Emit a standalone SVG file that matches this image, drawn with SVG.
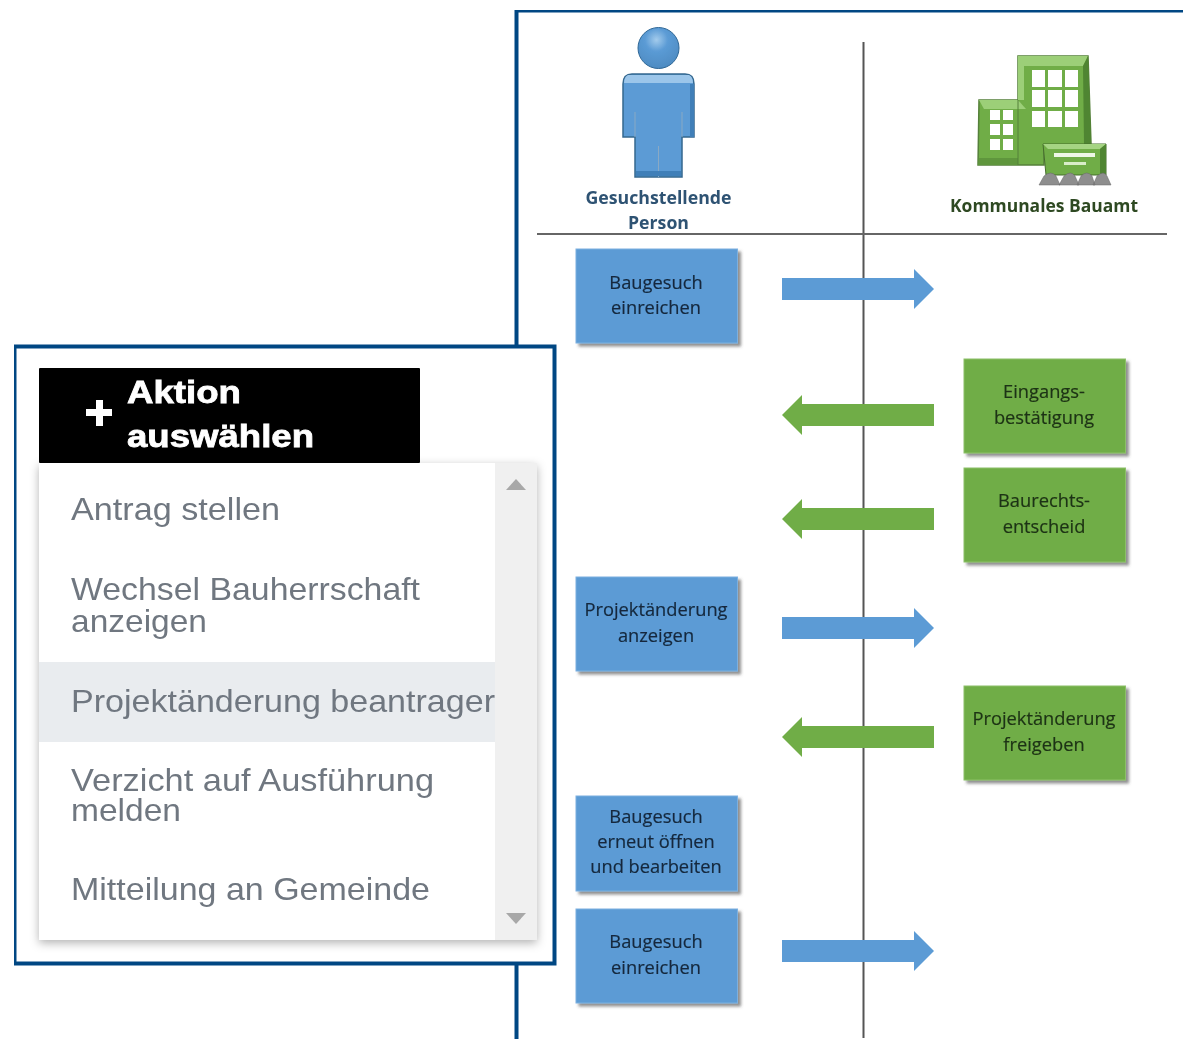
<svg xmlns="http://www.w3.org/2000/svg" width="1183" height="1039" viewBox="0 0 1183 1039">
<defs>
<filter id="sh" x="-10%" y="-10%" width="125%" height="125%"><feDropShadow dx="3" dy="3" stdDeviation="1.800" flood-color="#444" flood-opacity=".6"/></filter>
<filter id="pop" x="-5%" y="-5%" width="110%" height="110%"><feDropShadow dx="0" dy="3" stdDeviation="5" flood-color="#000" flood-opacity=".3"/></filter>
<filter id="blur" x="-5%" y="-5%" width="110%" height="110%"><feGaussianBlur stdDeviation=".65"/></filter>
<filter id="soft" x="0" y="0" width="100%" height="100%"><feGaussianBlur stdDeviation=".4"/></filter>
<radialGradient id="head" cx=".45" cy=".3" r=".8"><stop offset="0" stop-color="#a3cbec"/><stop offset=".35" stop-color="#5b9bd5"/><stop offset=".85" stop-color="#4e8cc3"/><stop offset="1" stop-color="#2f6796"/></radialGradient>
<symbol id="ar" viewBox="0 0 152 40" overflow="visible"><path d="M0 9H132V0L152 20L132 40V31H0Z"/></symbol>
</defs>
<style>
text{font-family:"Open Sans","Liberation Sans",sans-serif}
.box{stroke-width:1;filter:url(#sh)}
.b{fill:#5b9bd5;stroke:#7db0df}
.g{fill:#70ad47;stroke:#8cc068}
.l{font-size:18.300px;fill:#14283c;text-anchor:middle;stroke:#14283c;stroke-width:.2}
.lg{font-size:18.300px;fill:#1d3214;text-anchor:middle;stroke:#1d3214;stroke-width:.2}
.ab{fill:#5b9bd5}.ag{fill:#70ad47}
.m{font-family:"Liberation Sans",Arial,sans-serif;font-size:31.500px;fill:#6f7780}
.h{font-family:"Liberation Sans",Arial,sans-serif;font-size:31.500px;font-weight:700;fill:#fff;stroke:#fff;stroke-width:.8}
.win{fill:#fff}
.t{font-size:18.300px;font-weight:700;text-anchor:middle}
</style>
<rect width="1183" height="1039" fill="#fff"/>
<g filter="url(#soft)">
<path d="M516.500 1039V10.500H1183" fill="none" stroke="#034783" stroke-width="4"/>
<g id="connectors">
<path d="M863.500 42V1038" stroke="#555" stroke-width="2"/>
<path d="M537 234H1167" stroke="#666" stroke-width="2"/>
<use href="#ar" class="ab" x="782" y="269" width="152" height="40"/>
<use href="#ar" class="ag" x="782" y="395" width="152" height="40" transform="rotate(180 858 415)"/>
<use href="#ar" class="ag" x="782" y="499" width="152" height="40" transform="rotate(180 858 519)"/>
<use href="#ar" class="ab" x="782" y="608" width="152" height="40"/>
<use href="#ar" class="ag" x="782" y="717" width="152" height="40" transform="rotate(180 858 737)"/>
<use href="#ar" class="ab" x="782" y="931" width="152" height="40"/>
</g>
<g id="person">
<g filter="url(#blur)">
<circle cx="658.500" cy="48" r="20.500" fill="url(#head)" stroke="#2f6796"/>
<path d="M632 74H685Q694 74 694 84V137H682V177H635V137H623V84Q623 74 632 74Z" fill="#5b9bd5" stroke="#34688f" stroke-width="1.500"/>
<path d="M628 75H689Q693 77 693 83H624Q624 77 628 75Z" fill="#9cc6ea"/>
<path d="M635 112V137M682 112V137M658.500 146V177" stroke="#8aa9c4" stroke-width="1" fill="none"/>
<path d="M636 171H681V176H636Z" fill="#3f7fb8"/>
<path d="M690 84H694V137H690Z" fill="#3f7fb8"/>
</g>
<text class="t" x="658.500" y="204" fill="#2f5273" textLength="146" lengthAdjust="spacingAndGlyphs">Gesuchstellende</text>
<text class="t" x="658.500" y="229" fill="#2f5273" textLength="61" lengthAdjust="spacingAndGlyphs">Person</text>
</g>
<g id="bauamt">
<g filter="url(#blur)">
<path d="M1018 56H1088L1091 143H1091V150H1044V165H978L979 100H1018Z" fill="#70ad47" stroke="#55803a" stroke-width="1.500"/>
<path d="M1018 56H1088L1083 66H1024V100H1018Z" fill="#9ccf78"/>
<path d="M1083 66L1088 56L1091 145H1084Z" fill="#4f8530"/>
<path d="M979 100H1018L1026 109H984Z" fill="#9ccf78"/>
<path d="M979 158H1018V165H978Z" fill="#5f963c"/>
<path d="M1018 100V165" stroke="#55803a" stroke-width="1"/>
<g class="win">
<rect x="1032" y="70" width="13" height="17"/><rect x="1048" y="70" width="14" height="17"/><rect x="1065" y="70" width="13" height="17"/>
<rect x="1032" y="90" width="13" height="17"/><rect x="1048" y="90" width="14" height="17"/><rect x="1065" y="90" width="13" height="17"/>
<rect x="1032" y="111" width="13" height="16"/><rect x="1048" y="111" width="14" height="16"/><rect x="1065" y="111" width="13" height="16"/>
<rect x="990" y="110" width="10" height="10"/><rect x="1003" y="110" width="10" height="10"/>
<rect x="990" y="124" width="10" height="11"/><rect x="1003" y="124" width="10" height="11"/>
<rect x="990" y="139" width="10" height="11"/><rect x="1003" y="139" width="10" height="11"/>
</g>
<path d="M1043 144H1106V175H1046Z" fill="#70ad47" stroke="#456c2c"/>
<path d="M1043 144H1106L1100 149H1048Z" fill="#a5d483"/>
<path d="M1100 149L1106 144V175H1100Z" fill="#4f8530"/>
<rect x="1054" y="153" width="41" height="4" fill="#eef7e6"/><rect x="1064" y="162" width="22" height="3" fill="#d9edc9"/>
<path d="M1039 185L1044 176Q1051 170 1056 176L1060 185ZM1059 185L1064 176Q1071 170 1075 176L1079 185ZM1077 185L1081 176Q1087 170 1092 176L1095 185ZM1093 185L1097 176Q1104 170 1107 176L1111 185Z" fill="#8e8e8e" stroke="#666" stroke-width=".5"/>
</g>
<text class="t" x="1044" y="212" fill="#2f4a22" textLength="188" lengthAdjust="spacingAndGlyphs">Kommunales Bauamt</text>
</g>
<g id="n1"><rect class="box b" x="576" y="249" width="161.500" height="94"/><text class="l" x="656" y="289">Baugesuch</text><text class="l" x="656" y="314">einreichen</text></g>
<g id="n2"><rect class="box g" x="964" y="359" width="161.500" height="94"/><text class="lg" x="1044" y="398">Eingangs-</text><text class="lg" x="1044" y="424">bestätigung</text></g>
<g id="n3"><rect class="box g" x="964" y="468" width="161.500" height="94"/><text class="lg" x="1044" y="507">Baurechts-</text><text class="lg" x="1044" y="533">entscheid</text></g>
<g id="n4"><rect class="box b" x="576" y="577" width="161.500" height="94"/><text class="l" x="656" y="616">Projektänderung</text><text class="l" x="656" y="642">anzeigen</text></g>
<g id="n5"><rect class="box g" x="964" y="686" width="161.500" height="94"/><text class="lg" x="1044" y="725">Projektänderung</text><text class="lg" x="1044" y="751">freigeben</text></g>
<g id="n6"><rect class="box b" x="576" y="796" width="161.500" height="95"/><text class="l" x="656" y="823">Baugesuch</text><text class="l" x="656" y="848">erneut öffnen</text><text class="l" x="656" y="873">und bearbeiten</text></g>
<g id="n7"><rect class="box b" x="576" y="909" width="161.500" height="94"/><text class="l" x="656" y="948">Baugesuch</text><text class="l" x="656" y="974">einreichen</text></g>
<g id="panel">
<rect x="14.500" y="346.500" width="540" height="617" fill="#fff" stroke="#034783" stroke-width="4"/>
<rect x="39" y="368" width="381" height="95" fill="#000" rx="1"/>
<path d="M96 400H103V409H112V416H103V426H96V416H86V409H96Z" fill="#fff"/>
<text class="h" x="127" y="403" textLength="114" lengthAdjust="spacingAndGlyphs">Aktion</text>
<text class="h" x="127" y="447" textLength="187" lengthAdjust="spacingAndGlyphs">auswählen</text>
<rect x="39" y="463" width="498" height="477" fill="#fff" filter="url(#pop)"/>
<rect x="495" y="463" width="42" height="477" fill="#f0f0f0"/>
<rect x="39" y="662" width="456" height="80" fill="#e9ecef"/>
<path d="M516 479L526 490H506Z" fill="#a8a8a8"/>
<path d="M506 913H526L516 924Z" fill="#a8a8a8"/>
<text class="m" x="71" y="520" textLength="209" lengthAdjust="spacingAndGlyphs">Antrag stellen</text>
<text class="m"><tspan x="71" y="600" textLength="349" lengthAdjust="spacingAndGlyphs">Wechsel Bauherrschaft</tspan><tspan x="71" y="632" textLength="136" lengthAdjust="spacingAndGlyphs">anzeigen</tspan></text>
<text class="m" x="71" y="712" textLength="424" lengthAdjust="spacingAndGlyphs">Projektänderung beantrager</text>
<text class="m"><tspan x="71" y="791" textLength="363" lengthAdjust="spacingAndGlyphs">Verzicht auf Ausführung</tspan><tspan x="71" y="821" textLength="110" lengthAdjust="spacingAndGlyphs">melden</tspan></text>
<text class="m" x="71" y="900" textLength="359" lengthAdjust="spacingAndGlyphs">Mitteilung an Gemeinde</text>
</g>
</g>
</svg>
